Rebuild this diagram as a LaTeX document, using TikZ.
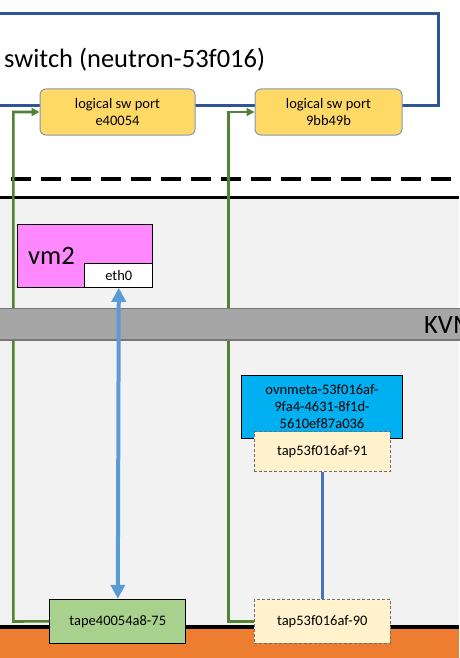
\documentclass[tikz,border=0pt]{standalone}
\usepackage{fontspec}
\setmainfont{Carlito}
\usetikzlibrary{arrows.meta}

\definecolor{swblue}{RGB}{47,85,151}
\definecolor{portfill}{RGB}{255,217,102}
\definecolor{portedge}{RGB}{132,151,176}
\definecolor{hostgray}{RGB}{242,242,242}
\definecolor{kvmgray}{RGB}{166,166,166}
\definecolor{kvmedge}{RGB}{118,118,118}
\definecolor{vmpink}{RGB}{255,136,255}
\definecolor{wireblue}{RGB}{91,155,213}
\definecolor{linkblue}{RGB}{68,114,196}
\definecolor{ovncyan}{RGB}{0,176,240}
\definecolor{tapfill}{RGB}{255,242,204}
\definecolor{tapedge}{RGB}{110,110,110}
\definecolor{tapgreen}{RGB}{169,209,142}
\definecolor{uplinkgreen}{RGB}{84,130,53}
\definecolor{physorange}{RGB}{237,125,49}

\begin{document}
\begin{tikzpicture}[x=1pt,y=-1pt,
  box/.style={draw=black,line width=1pt,inner sep=0pt,align=center,
    font=\fontsize{14.5}{17}\selectfont},
  port/.style={box,draw=portedge,fill=portfill,rounded corners=6pt,
    minimum width=155pt,minimum height=46pt},
  tapbox/.style={box,draw=tapedge,fill=tapfill,dash pattern=on 3pt off 2pt,
    minimum width=136pt},
  biglabel/.style={anchor=base west,inner sep=0pt,font=\fontsize{26.5}{30}\selectfont},
  uplink/.style={draw=uplinkgreen,line width=2.6pt,-{Triangle[length=8pt,width=8pt]}},
  vmlink/.style={draw=wireblue,line width=4pt,
    {Triangle[length=14pt,width=14pt]}-{Triangle[length=14pt,width=14pt]}}]
\useasboundingbox (0,0) rectangle (459,658);

\fill[hostgray] (0,197) rectangle (459,627);
\fill[physorange] (0,627) rectangle (459,658);
\draw[black,line width=3pt] (0,197) -- (459,197);
\draw[black,line width=4pt] (0,626.5) -- (459,626.5);
\draw[black,line width=3.5pt,dash pattern=on 20pt off 10pt] (11,179) -- (470,179);

\draw[swblue,line width=2.6pt] (-10,13.5) -| (438.7,105.7) -- (-10,105.7);
\node[biglabel] (swlabel) at (4,68) {switch (neutron-53f016)};

\node[port] (p1) at (117.5,112) {logical sw port\\e40054};
\node[port,minimum width=147pt] (p2) at (328.5,112) {logical sw port\\9bb49b};

\node[box,fill=tapgreen,minimum width=135.7pt,minimum height=44pt] (tape) at (117.8,621.3) {tape40054a8-75};
\node[tapbox,minimum height=43.6pt] (tap90) at (322.3,621.5) {tap53f016af-90};

\coordinate (g1) at (13.3,621.5);
\coordinate (g2) at (228.3,621.5);
\draw[uplink] (tape.west) -- (g1) |- (p1.west);
\draw[uplink] (tap90.west) -- (g2) |- (p2.west);

\fill[kvmgray] (-5,308.7) rectangle (470,340);
\draw[kvmedge,line width=1.4pt] (-5,308.7) -- (470,308.7);
\draw[kvmedge,line width=1.4pt] (-5,340) -- (470,340);
\node[biglabel] (kvm) at (424,333) {KVM};

\node[box,fill=vmpink,minimum width=135.4pt,minimum height=63pt] (vm) at (85,255.8) {};
\node[biglabel] (vmlabel) at (28,264) {vm2};
\node[box,fill=white,minimum width=67.7pt,minimum height=23.6pt] (eth) at (118.8,275.5) {eth0};

\node[box,fill=ovncyan,minimum width=161.4pt,minimum height=63.3pt] (ovn) at (322,406.7) {ovnmeta-53f016af-\\9fa4-4631-8f1d-\\5610ef87a036};
\node[tapbox,minimum height=40.3pt] (tap91) at (322.3,451.8) {tap53f016af-91};

\draw[vmlink] (eth.south) -- (tape.north);
\draw[linkblue,line width=3pt] (tap91.south) -- (tap90.north);

\end{tikzpicture}
\end{document}
